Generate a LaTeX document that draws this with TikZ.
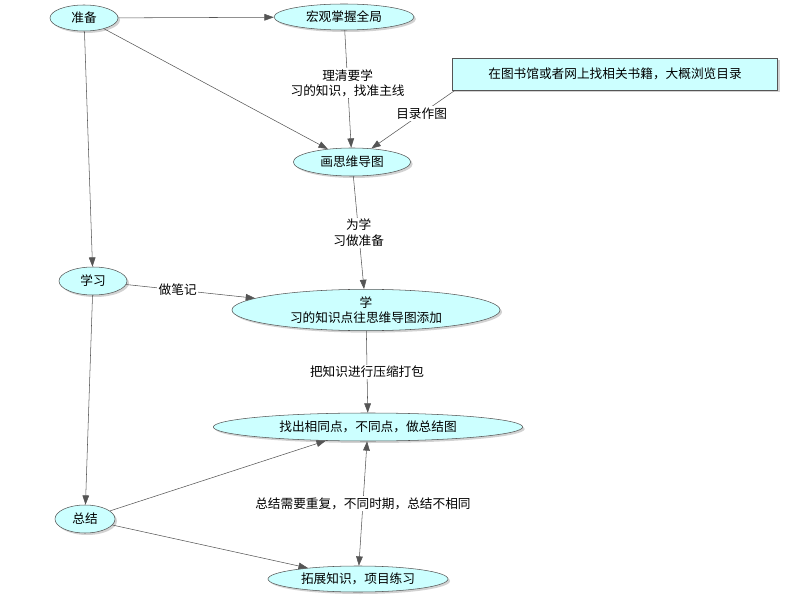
\documentclass[tikz,border=0pt]{standalone}
\usepackage{fontspec}
\setmainfont{Noto Sans CJK SC}
\usetikzlibrary{shapes.geometric,arrows.meta,shadows}
\definecolor{fillc}{HTML}{CCFFFF}
\definecolor{linec}{HTML}{555555}
\begin{document}
\begin{tikzpicture}[x=0.75pt,y=-0.75pt,
  every node/.style={font=\fontsize{9.5pt}{11.5pt}\selectfont},
  el/.style={ellipse,draw=linec,fill=fillc,inner sep=0pt,drop shadow={shadow xshift=1.5pt,shadow yshift=-1.5pt,fill=gray!70},align=center},
  box/.style={rectangle,draw=linec,fill=fillc,inner sep=0pt,drop shadow={shadow xshift=1.5pt,shadow yshift=-1.5pt,fill=gray!70}},
  arr/.style={draw=linec,-{Triangle[length=7pt,width=5pt]}},
  lbl/.style={fill=white,inner sep=1pt,align=center}]
\useasboundingbox (0,0) rectangle (804,599);
\node[el,minimum width=51pt,minimum height=19.5pt] (zb) at (84,18) {准备};
\node[el,minimum width=105pt,minimum height=19.5pt] (hg) at (344,17) {宏观掌握全局};
\node[box,minimum width=244pt,minimum height=24pt] (ts) at (615,74) {在图书馆或者网上找相关书籍，大概浏览目录};
\node[el,minimum width=88pt,minimum height=21pt] (ht) at (352,162) {画思维导图};
\node[el,minimum width=51pt,minimum height=21pt] (xx) at (93,281) {学习};
\node[el,minimum width=201pt,minimum height=31pt] (xz) at (366,310) {学\\习的知识点往思维导图添加};
\node[el,minimum width=232pt,minimum height=21pt] (zc) at (368,427) {找出相同点，不同点，做总结图};
\node[el,minimum width=45pt,minimum height=21pt] (zj) at (85,519) {总结};
\node[el,minimum width=135pt,minimum height=19.5pt] (tz) at (358,579) {拓展知识，项目练习};

\draw[arr] (zb) -- (hg);
\draw[arr] (zb) -- (ht);
\draw[arr] (zb) -- (xx);
\draw[arr] (hg) -- node[lbl,pos=0.45] {理清要学\\习的知识，找准主线} (ht);
\draw[arr] (ts.south west) ++(3,0) coordinate (tsa) (tsa) -- node[lbl,pos=0.4] {目录作图} (ht);
\draw[arr] (ht) -- node[lbl,pos=0.5] {为学\\习做准备} (xz);
\draw[arr] (xx) -- node[lbl,pos=0.4] {做笔记} (xz);
\draw[arr] (xz) -- node[lbl,pos=0.5] {把知识进行压缩打包} (zc);
\draw[arr] (xx) -- (zj);
\draw[arr] (zj) -- (zc);
\draw[arr] (zj) -- (tz);
\draw[draw=linec,{Triangle[length=7pt,width=5pt]}-{Triangle[length=7pt,width=5pt]}] (zc) -- node[lbl,pos=0.5] {总结需要重复，不同时期，总结不相同} (tz);
\end{tikzpicture}
\end{document}
